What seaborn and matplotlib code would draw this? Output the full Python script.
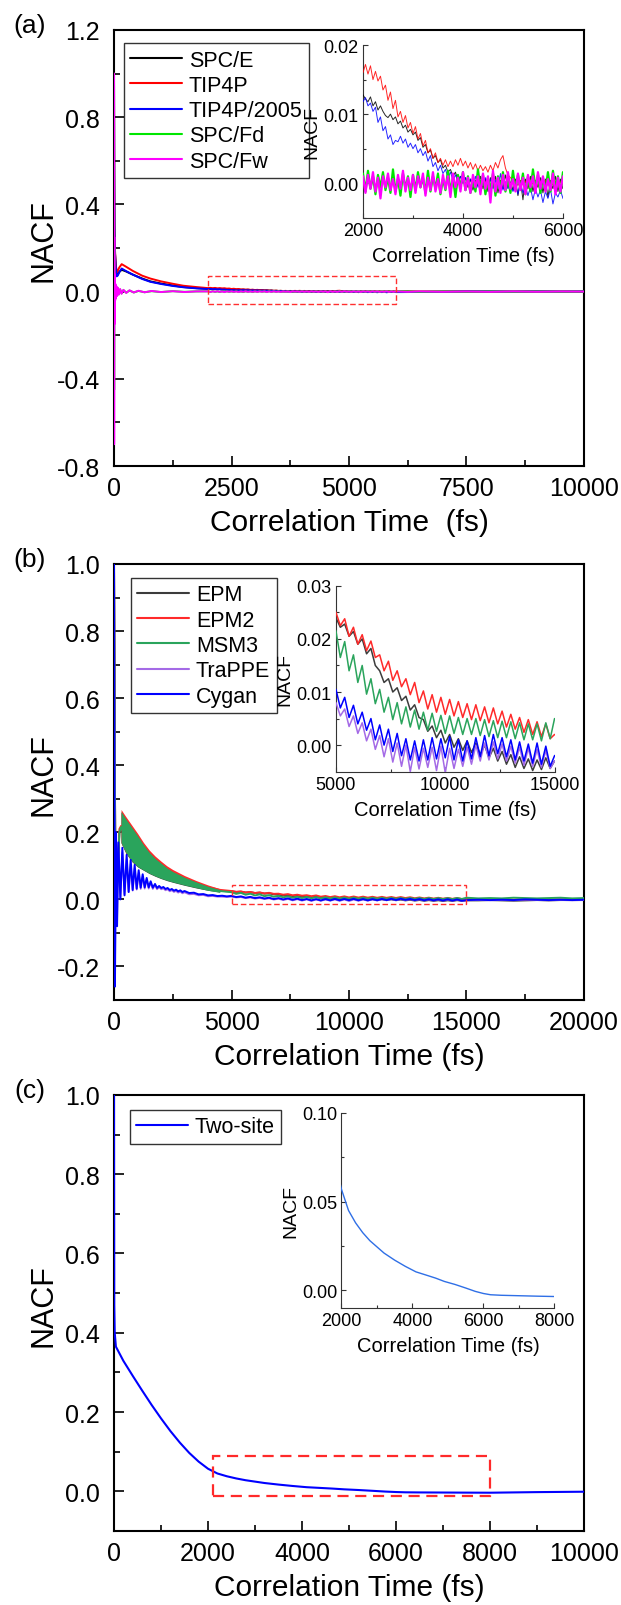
import numpy as np
import matplotlib
matplotlib.use("Agg")
import matplotlib.pyplot as plt
import seaborn as sns
from matplotlib.patches import Rectangle
from matplotlib.lines import Line2D
from matplotlib.ticker import MultipleLocator, FuncFormatter

sns.set_style("white")
plt.rcParams["font.family"] = ["Liberation Sans", "DejaVu Sans"]
plt.rcParams["axes.unicode_minus"] = False
for k in ["text.color", "axes.labelcolor", "xtick.color", "ytick.color", "axes.edgecolor"]:
    plt.rcParams[k] = "black"

# ======================= panel (a) data =======================
a_labels = ["SPC/E", "TIP4P", "TIP4P/2005", "SPC/Fd", "SPC/Fw"]
a_colors = ["#000000", "#ff0000", "#0000ff", "#00e600", "#ff00ff"]

a_t_early = [0, 4, 8, 12, 20, 35, 57, 80, 110, 163, 250, 400, 600, 772, 1000, 1250, 1475, 1750]
a_spce_early = [1.0, 0.55, 0.30, 0.22, 0.18, 0.12, 0.075, 0.078, 0.09, 0.10, 0.093, 0.078, 0.060, 0.047, 0.037, 0.028, 0.021, 0.016]
a_tip4p_early = [1.0, 0.58, 0.32, 0.24, 0.195, 0.13, 0.088, 0.095, 0.11, 0.126, 0.115, 0.095, 0.073, 0.060, 0.047, 0.036, 0.027, 0.021]
a_t2005_early = [1.0, 0.55, 0.30, 0.22, 0.18, 0.115, 0.07, 0.074, 0.088, 0.106, 0.095, 0.078, 0.058, 0.045, 0.035, 0.026, 0.020, 0.015]

a_tf_early = [0, 3, 6, 9, 12, 16, 20, 25, 30, 40, 50, 65, 80, 100, 130, 160, 200, 260, 330, 420, 520, 650, 800, 1000, 1250, 1500, 1750]
a_fd_early = [1.0, -0.45, 0.2, -0.12, 0.07, -0.05, 0.04, -0.035, 0.03, -0.025, 0.02, -0.018, 0.015, -0.012, 0.01, -0.008, 0.007, -0.005, 0.005, -0.004, 0.003, -0.003, 0.002, -0.002, 0.002, -0.001, 0.001]
a_fw_early = [1.0, -0.70, 0.25, -0.15, 0.08, -0.06, 0.05, -0.04, 0.035, -0.03, 0.025, -0.02, 0.018, -0.014, 0.012, -0.01, 0.008, -0.006, 0.006, -0.004, 0.004, -0.003, 0.003, -0.002, 0.002, -0.002, 0.001]

# zoom window 2000-6000 fs, every 50 fs (values in units of 1e-4)
a_t_win = np.arange(2000, 6001, 50)
a_spce_win = [128, 122, 118, 125, 112, 118, 106, 112, 104, 98,
              95, 100, 92, 96, 86, 90, 80, 84, 74, 78,
              70, 74, 62, 66, 52, 56, 44, 48, 36, 40,
              30, 34, 22, 26, 16, 20, 10, 16, 4, 10,
              0, 8, -6, 6, -10, 4, -4, 10, -8, 6,
              -12, 8, -6, 10, -14, 4, -8, 12, -6, 2,
              -10, 6, -18, 4, -24, 6, -8, 10, -12, 4,
              -6, 8, -14, 6, -20, 4, -8, 10, -12, 6,
              -8]
a_tip4p_win = [160, 172, 158, 170, 150, 162, 148, 155, 135, 142,
               120, 132, 108, 120, 96, 104, 88, 98, 80, 88,
               72, 82, 64, 72, 54, 62, 44, 50, 36, 44,
               30, 36, 26, 34, 24, 32, 24, 34, 26, 36,
               25, 32, 22, 30, 20, 28, 18, 26, 18, 24,
               16, 26, 18, 30, 22, 34, 40, 22, 12, 8,
               4, 2, -3, 4, -2, 3, -4, 2, -1, 3,
               -3, 2, -2, 4, -3, 1, -2, 3, -1, 2,
               -2]
a_t2005_win = [118, 124, 112, 116, 104, 110, 88, 96, 76, 82,
               64, 70, 56, 62, 60, 68, 58, 64, 52, 58,
               50, 56, 44, 50, 40, 46, 32, 40, 24, 30,
               18, 26, 14, 20, 8, 16, 4, 12, 2, 10,
               0, 8, -4, 6, -2, 10, -6, 4, -2, 8,
               -4, 6, -8, 4, -6, 14, -10, 2, -8, 0,
               -12, -2, -16, 2, -14, -4, -18, -6, -24, -8,
               -20, -10, -28, -12, -22, -8, -30, -14, -20, -10,
               -22]
a_fd_win = [14, -12, 18, -8, 10, -16, 12, -6, 16, -10,
            8, -14, 20, -12, 6, -18, 14, -8, 10, -20,
            12, -10, 16, -6, 8, -14, 18, -12, 10, -8,
            14, -16, 6, -10, 18, -12, 8, -20, 12, -6,
            16, -10, 10, -14, 6, -12, 20, -8, 12, -16,
            8, -10, 14, -18, 10, -6, 16, -12, 8, -14,
            18, -10, 12, -8, 14, -16, 10, -12, 20, -6,
            12, -14, 8, -10, 16, -12, 18, -8, 10, -14,
            16]
a_fw_win = [10, -14, 12, -8, 16, -12, 8, -22, 10, -6,
            14, -10, 6, -16, 12, -8, 18, -12, 8, -10,
            12, -14, 10, -6, 14, -18, 8, -10, 16, -12,
            6, -14, 12, -8, 10, -20, 14, -6, 8, -12,
            16, -10, 8, -14, 12, -6, 10, -16, 14, -8,
            10, -28, 18, -12, 8, -14, 12, -10, 16, -8,
            6, -12, 14, -10, 8, -16, 12, -6, 10, -14,
            16, -8, 10, -12, 6, -10, 14, -16, 8, -12,
            10]

a_t_late = [6250, 6500, 7000, 7500, 8000, 8500, 9000, 9500, 10000]
a_spce_late = [0.0005, -0.001, 0.0, 0.0008, -0.0005, 0.0, 0.0006, -0.0004, 0.0]
a_tip4p_late = [0.0, 0.0005, -0.0003, 0.0, 0.0004, -0.0002, 0.0, 0.0003, 0.0]
a_t2005_late = [-0.002, -0.0015, -0.001, 0.0005, 0.001, -0.0005, 0.0008, 0.0, 0.0005]
a_fd_late = [0.001, -0.001, 0.0008, -0.0006, 0.001, -0.0008, 0.0006, -0.0005, 0.0]
a_fw_late = [-0.001, 0.001, -0.0008, 0.0006, -0.001, 0.0008, -0.0006, 0.0005, 0.0]

# ======================= panel (b) data =======================
b_labels = ["EPM", "EPM2", "MSM3", "TraPPE", "Cygan"]
b_colors = ["#3c3c3c", "#ff2a2a", "#2aa45c", "#a46ae6", "#0000ff"]

b_t_early = [0, 15, 30, 50, 80, 120, 170, 230]
b_epm_early = [1.0, 0.75, 0.45, 0.2, 0.05, 0.02, 0.1, 0.2]
b_epm2_early = [1.0, 0.76, 0.46, 0.21, 0.06, 0.03, 0.11, 0.21]
b_msm3_early = [1.0, 0.75, 0.45, 0.2, 0.05, 0.02, 0.1, 0.2]

# envelope of the fast oscillation band (upper / lower)
b_t_band = [300, 500, 750, 1000, 1250, 1500, 1750, 2000, 2250, 2500, 3000, 3500, 4000, 4500]
b_epm_hi = [0.26, 0.238, 0.213, 0.188, 0.162, 0.139, 0.121, 0.107, 0.093, 0.082, 0.065, 0.051, 0.038, 0.029]
b_epm_lo = [0.168, 0.138, 0.113, 0.097, 0.087, 0.077, 0.069, 0.062, 0.056, 0.051, 0.042, 0.034, 0.027, 0.022]
b_epm2_hi = [0.268, 0.247, 0.222, 0.197, 0.17, 0.147, 0.129, 0.114, 0.1, 0.089, 0.071, 0.056, 0.043, 0.032]
b_epm2_lo = [0.17, 0.14, 0.115, 0.1, 0.09, 0.08, 0.072, 0.065, 0.059, 0.054, 0.045, 0.037, 0.03, 0.025]
b_msm3_hi = [0.262, 0.24, 0.215, 0.19, 0.163, 0.14, 0.122, 0.108, 0.094, 0.083, 0.066, 0.052, 0.039, 0.029]
b_msm3_lo = [0.17, 0.14, 0.115, 0.098, 0.088, 0.078, 0.07, 0.063, 0.057, 0.052, 0.043, 0.035, 0.027, 0.021]

b_t_osc = [0, 20, 40, 85, 130, 185, 270, 355, 447, 538, 623, 709, 794, 879, 965,
           1050, 1135, 1220, 1305, 1390, 1475, 1560, 1650, 1745, 1830, 1920, 2010, 2100, 2190, 2280, 2370,
           2460, 2550, 2640, 2730, 2820, 2910, 3000, 3200, 3400, 3600, 3800, 4000, 4200, 4400, 4600, 4800]
b_cyg_osc = [1.0, 0.3, -0.26, 0.2, -0.08, 0.17, 0.0, 0.154, 0.012, 0.133, 0.022, 0.118, 0.028, 0.103, 0.032,
             0.087, 0.035, 0.075, 0.036, 0.064, 0.036, 0.054, 0.035, 0.046, 0.034, 0.04, 0.034, 0.037, 0.031, 0.034, 0.028,
             0.031, 0.026, 0.029, 0.024, 0.027, 0.022, 0.025, 0.019, 0.02, 0.015, 0.016, 0.012, 0.013, 0.01, 0.011, 0.009]
b_trap_osc = [1.0, 0.3, -0.25, 0.18, -0.07, 0.15, 0.005, 0.14, 0.015, 0.12, 0.022, 0.105, 0.026, 0.092, 0.029,
              0.079, 0.031, 0.068, 0.032, 0.058, 0.032, 0.049, 0.031, 0.042, 0.03, 0.036, 0.03, 0.033, 0.027, 0.03, 0.024,
              0.027, 0.022, 0.025, 0.02, 0.023, 0.018, 0.021, 0.015, 0.016, 0.012, 0.013, 0.009, 0.01, 0.008, 0.008, 0.007]

# zoom window 5000-15000 fs, every 200 fs (values in units of 1e-4)
b_t_win = np.arange(5000, 15001, 200)
b_epm_win = [240, 222, 228, 205, 214, 190, 200, 172, 182, 150,
             140, 118, 125, 100, 108, 84, 92, 66, 76, 52,
             48, 26, 36, 14, 28, 4, 20, -4, 12, -10,
             8, -14, 4, -18, 0, -24, -6, -30, -12, -36,
             -18, -42, -22, -44, -26, -48, -28, -46, -24, -44,
             -30]
b_epm2_win = [250, 225, 238, 205, 222, 190, 208, 178, 196, 165,
              170, 140, 158, 122, 140, 110, 125, 95, 118, 80,
              102, 68, 95, 62, 90, 58, 86, 55, 82, 52,
              78, 48, 76, 46, 72, 42, 70, 40, 64, 34,
              58, 30, 52, 24, 48, 20, 44, 16, 40, 12,
              20]
b_msm3_win = [215, 165, 195, 140, 170, 118, 150, 96, 125, 78,
              105, 62, 90, 48, 80, 40, 72, 34, 66, 30,
              62, 28, 60, 26, 56, 22, 55, 22, 52, 20,
              50, 20, 50, 18, 48, 16, 46, 14, 45, 14,
              44, 12, 42, 10, 40, 10, 40, 8, 42, 12,
              50]
b_trap_win = [80, 55, 68, 35, 55, 22, 42, 8, 30, -8,
              18, -22, 12, -32, 4, -40, 0, -50, -4, -45,
              -6, -42, -4, -48, -2, -52, -6, -44, -8, -40,
              -4, -36, 0, -30, 4, -28, 6, -26, 2, -30,
              -2, -34, -4, -38, -6, -40, -8, -42, -10, -44,
              -30]
b_cyg_win = [105, 70, 90, 52, 75, 40, 62, 28, 50, 10,
             38, 0, 30, -12, 22, -20, 12, -28, 8, -30,
             10, -28, 14, -26, 12, -24, 16, -28, 10, -30,
             8, -26, 14, -22, 18, -20, 20, -16, 14, -22,
             10, -28, 6, -30, 2, -34, 4, -36, -2, -40,
             -20]

b_t_late = [15500, 16000, 16500, 17000, 17500, 18000, 18500, 19000, 19500, 20000]
b_epm_late = [-0.003, -0.002, -0.003, -0.004, -0.003, -0.002, -0.003, -0.002, -0.002, -0.002]
b_epm2_late = [0.001, 0.0, 0.001, -0.001, 0.0, 0.001, -0.001, 0.0, -0.001, -0.001]
b_msm3_late = [0.003, 0.004, 0.003, 0.005, 0.004, 0.003, 0.004, 0.005, 0.003, 0.004]
b_trap_late = [-0.002, -0.003, -0.002, -0.003, -0.001, -0.002, -0.003, -0.002, -0.003, -0.002]
b_cyg_late = [-0.001, -0.002, -0.001, -0.002, 0.0, -0.001, -0.002, -0.001, -0.002, -0.001]

# ======================= panel (c) data =======================
c_label = "Two-site"
c_t = [0, 5, 15, 40, 200, 400, 600, 800, 1000, 1200,
       1400, 1600, 1800, 2000, 2200, 2400, 2600, 2800, 3000, 3200,
       3500, 3800, 4100, 4400, 4650, 4900, 5200, 5500, 5770, 6000,
       6200, 6500, 6900, 7500, 8000, 9000, 10000]
c_v = [1.0, 0.47, 0.40, 0.365, 0.329, 0.291, 0.254, 0.218, 0.184, 0.152,
       0.123, 0.097, 0.075, 0.057, 0.045, 0.038, 0.0325, 0.028, 0.0245, 0.021,
       0.017, 0.0135, 0.0104, 0.0085, 0.0069, 0.005, 0.0033, 0.0013, -0.0006, -0.0018,
       -0.0025, -0.0028, -0.003, -0.0033, -0.0035, -0.002, -0.001]

# ======================= helpers =======================
def cat(*parts):
    return np.concatenate([np.asarray(p, dtype=float) for p in parts])


def line(ax, t, y, color, lw, z=3, alpha=1.0):
    sns.lineplot(x=np.asarray(t, float), y=np.asarray(y, float), ax=ax, color=color,
                 linewidth=lw, estimator=None, sort=False, legend=False, zorder=z, alpha=alpha)


def fmt(dec):
    def f(v, p):
        if abs(v) < 1e-12:
            v = 0.0
        return f"{v:.{dec}f}"
    return FuncFormatter(f)


def style_main(ax, xlim, ylim, xmaj, xmin, ymaj, ymin):
    ax.set_xlim(*xlim)
    ax.set_ylim(*ylim)
    ax.xaxis.set_major_locator(MultipleLocator(xmaj))
    ax.xaxis.set_minor_locator(MultipleLocator(xmin))
    ax.yaxis.set_major_locator(MultipleLocator(ymaj))
    ax.yaxis.set_minor_locator(MultipleLocator(ymin))
    ax.xaxis.set_major_formatter(fmt(0))
    ax.yaxis.set_major_formatter(fmt(1))
    ax.tick_params(which="both", direction="in", bottom=True, left=True, top=False, right=False,
                   width=1.2, labelsize=18)
    ax.tick_params(which="major", length=7)
    ax.tick_params(which="minor", length=4)
    ax.tick_params(axis="x", pad=7)
    ax.tick_params(axis="y", pad=10)
    for s in ax.spines.values():
        s.set_visible(True)
        s.set_linewidth(1.5)
        s.set_color("black")
    ax.set_ylabel("NACF", fontsize=22)
    ax.yaxis.set_label_coords(-0.118, 0.52)
    ax.xaxis.set_label_coords(0.5, -0.097)


def style_inset(ax, xlim, ylim, xticks, xminor, yticks, yminor, ydec):
    ax.set_facecolor("none")
    ax.set_xlim(*xlim)
    ax.set_ylim(*ylim)
    ax.set_xticks(xticks)
    ax.set_xticks(xminor, minor=True)
    ax.set_yticks(yticks)
    ax.set_yticks(yminor, minor=True)
    ax.xaxis.set_major_formatter(fmt(0))
    ax.yaxis.set_major_formatter(fmt(ydec))
    ax.tick_params(which="both", direction="in", bottom=True, left=True, top=False, right=False,
                   width=0.8, labelsize=13, pad=3, color="#333333")
    ax.tick_params(which="major", length=3.5)
    ax.tick_params(which="minor", length=2)
    ax.spines["top"].set_visible(False)
    ax.spines["right"].set_visible(False)
    for s in ("left", "bottom"):
        ax.spines[s].set_linewidth(0.8)
        ax.spines[s].set_color("#333333")
    ax.set_xlabel("Correlation Time (fs)", fontsize=14.5, labelpad=5)
    ax.set_ylabel("NACF", fontsize=14, labelpad=2)


def legend(ax, labels, colors, anchor, lw=1.5):
    handles = [Line2D([0], [0], color=c, lw=lw) for c in colors]
    lg = ax.legend(handles, labels, loc="upper left", bbox_to_anchor=anchor, borderaxespad=0,
                   frameon=True, fancybox=False, edgecolor="black",
                   prop={"family": "Liberation Sans", "size": 15.5},
                   handlelength=2.4, handletextpad=0.32, labelspacing=0.2, borderpad=0.3)
    lg.get_frame().set_linewidth(1.0)
    lg.set_zorder(10)


fig = plt.figure(figsize=(6.21, 16.06), dpi=100)

# ======================= panel (a) =======================
axA = fig.add_axes([0.1836, 0.7092, 0.7568, 0.2715])
a_series = [
    (cat(a_t_early, a_t_win, a_t_late), cat(a_spce_early, np.array(a_spce_win) * 1e-4, a_spce_late)),
    (cat(a_t_early, a_t_win, a_t_late), cat(a_tip4p_early, np.array(a_tip4p_win) * 1e-4, a_tip4p_late)),
    (cat(a_t_early, a_t_win, a_t_late), cat(a_t2005_early, np.array(a_t2005_win) * 1e-4, a_t2005_late)),
    (cat(a_tf_early, a_t_win, a_t_late), cat(a_fd_early, np.array(a_fd_win) * 1e-4, a_fd_late)),
    (cat(a_tf_early, a_t_win, a_t_late), cat(a_fw_early, np.array(a_fw_win) * 1e-4, a_fw_late)),
]
for i, ((t, y), c) in enumerate(zip(a_series, a_colors)):
    line(axA, t, y, c, 1.4, z=3 + i * 0.1)
style_main(axA, (0, 10000), (-0.8, 1.2), 2500, 1250, 0.4, 0.2)
axA.set_xlabel("Correlation Time  (fs)", fontsize=21.5)
axA.add_patch(Rectangle((2000, -0.055), 4000, 0.125, fill=False, ec="#ff3030", lw=1.0,
                        ls=(0, (4, 2)), zorder=5))
legend(axA, a_labels, a_colors, (0.021, 0.970))

insA = fig.add_axes([0.5845, 0.8638, 0.322, 0.1075])
a_in_lw = [0.7, 0.7, 0.7, 1.6, 1.6]
for i, ((t, y), c) in enumerate(zip(a_series, a_colors)):
    line(insA, t, y, c, a_in_lw[i], z=3 + i * 0.1, alpha=0.85 if i < 3 else 1.0)
style_inset(insA, (2000, 6000), (-0.005, 0.02), [2000, 4000, 6000], [3000, 5000],
            [0.0, 0.01, 0.02], [-0.005, 0.005, 0.015], 2)

# ======================= panel (b) =======================
axB = fig.add_axes([0.1836, 0.3767, 0.7568, 0.2715])
band_sets = [
    (b_epm_early, b_epm_hi, b_epm_lo, b_epm_win, b_epm_late),
    (b_epm2_early, b_epm2_hi, b_epm2_lo, b_epm2_win, b_epm2_late),
    (b_msm3_early, b_msm3_hi, b_msm3_lo, b_msm3_win, b_msm3_late),
]
b_lines = []
for i, (early, hi, lo, win, late) in enumerate(band_sets):
    mid = (np.asarray(hi) + np.asarray(lo)) / 2
    t = cat(b_t_early, b_t_band, b_t_win, b_t_late)
    y = cat(early, mid, np.array(win) * 1e-4, late)
    b_lines.append((t, y))
    axB.fill_between(b_t_band, lo, hi, color=b_colors[i], lw=0, zorder=3.0 + 0.1 * i)
    line(axB, t, y, b_colors[i], 1.4, z=3.05 + 0.1 * i)
for j, (osc, win, late) in enumerate([(b_trap_osc, b_trap_win, b_trap_late),
                                      (b_cyg_osc, b_cyg_win, b_cyg_late)]):
    t = cat(b_t_osc, b_t_win, b_t_late)
    y = cat(osc, np.array(win) * 1e-4, late)
    b_lines.append((t, y))
    line(axB, t, y, b_colors[3 + j], 1.2 if j == 0 else 1.4, z=3.4 + 0.1 * j)
style_main(axB, (0, 20000), (-0.3, 1.0), 5000, 2500, 0.2, 0.1)
axB.set_xlabel("Correlation Time (fs)", fontsize=21.5)
axB.add_patch(Rectangle((5000, -0.013), 10000, 0.057, fill=False, ec="#ff3030", lw=1.0,
                        ls=(0, (4, 2)), zorder=5))
legend(axB, b_labels, b_colors, (0.036, 0.968))

insB = fig.add_axes([0.541, 0.5189, 0.352, 0.1157])
for i, (t, y) in enumerate(b_lines):
    line(insB, t, y, b_colors[i], 1.1, z=3 + 0.1 * i)
style_inset(insB, (5000, 15000), (-0.005, 0.03), [5000, 10000, 15000], [7500, 12500],
            [0.0, 0.01, 0.02, 0.03], [0.005, 0.015, 0.025], 2)

# ======================= panel (c) =======================
axC = fig.add_axes([0.1836, 0.0461, 0.7568, 0.2715])
line(axC, c_t, c_v, "#0000ff", 1.5)
style_main(axC, (0, 10000), (-0.1, 1.0), 2000, 1000, 0.2, 0.1)
axC.set_xlabel("Correlation Time (fs)", fontsize=21.5)
axC.add_patch(Rectangle((2100, -0.012), 5900, 0.102, fill=False, ec="#ff2a2a", lw=1.6,
                        ls=(0, (5, 3)), zorder=5))
legend(axC, [c_label], ["#0000ff"], (0.033, 0.966))

insC = fig.add_axes([0.5498, 0.1849, 0.343, 0.1215])
line(insC, c_t, c_v, "#2f6fe6", 1.0)
style_inset(insC, (2000, 8000), (-0.01, 0.10), [2000, 4000, 6000, 8000], [3000, 5000, 7000],
            [0.0, 0.05, 0.10], [0.025, 0.075], 2)

# panel labels
fig.text(30 / 621, 1 - 26 / 1606, "(a)", ha="center", va="center", fontsize=19)
fig.text(30 / 621, 1 - 560 / 1606, "(b)", ha="center", va="center", fontsize=19)
fig.text(30 / 621, 1 - 1091 / 1606, "(c)", ha="center", va="center", fontsize=19)

fig.savefig("out.png", dpi=100)
